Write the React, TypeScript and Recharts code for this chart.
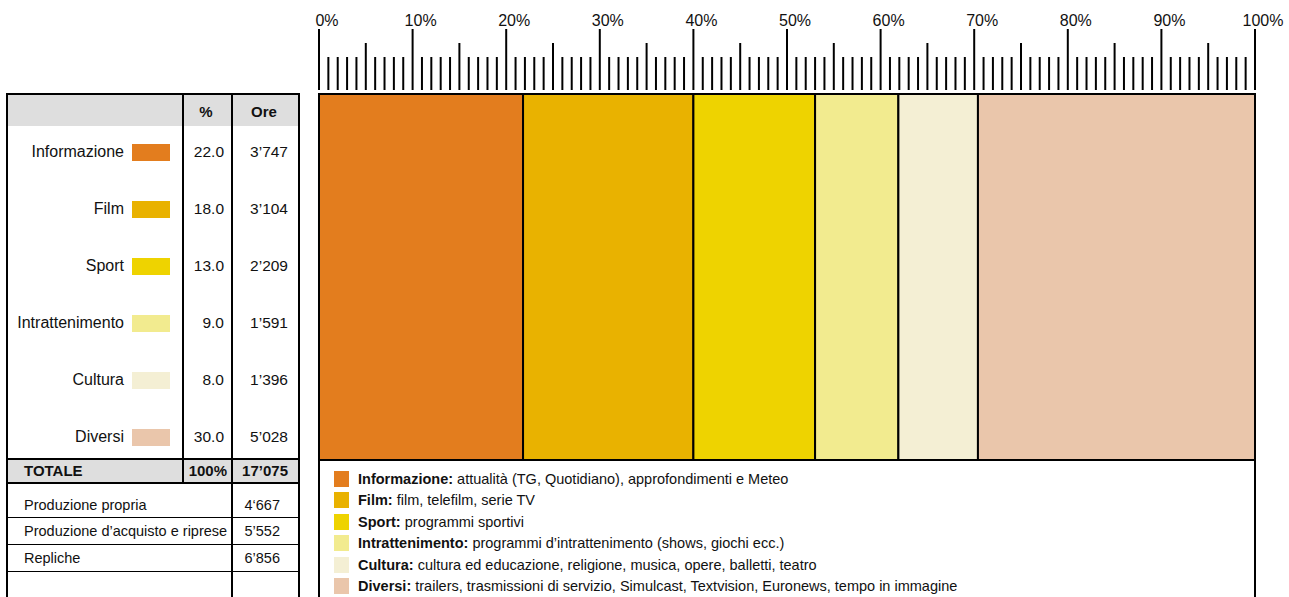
import * as React from "react";
import { Bar, BarChart, XAxis, YAxis } from "recharts";

const CATEGORIES = ["Informazione", "Film", "Sport", "Intrattenimento", "Cultura", "Diversi"];
// valori della tabella
const PERCENT = [22.0, 18.0, 13.0, 9.0, 8.0, 30.0];
const HOURS = ["3’747", "3’104", "2’209", "1’591", "1’396", "5’028"];
// larghezze dei segmenti come disegnati nella barra
const BAR_SHARE = [21.8, 18.2, 13.0, 8.9, 8.5, 29.6];
const COLORS = ["#e37d1e", "#e9b200", "#eed300", "#f2eb8f", "#f4efd4", "#eac6ab"];
const DESCRIPTIONS = [
  "attualità (TG, Quotidiano), approfondimenti e Meteo",
  "film, telefilm, serie TV",
  "programmi sportivi",
  "programmi d’intrattenimento (shows, giochi ecc.)",
  "cultura ed educazione, religione, musica, opere, balletti, teatro",
  "trailers, trasmissioni di servizio, Simulcast, Textvision, Euronews, tempo in immagine",
];
const TOTAL_LABEL = "TOTALE";
const TOTAL_PERCENT = "100%";
const TOTAL_HOURS = "17’075";
const PRODUCTION_LABELS = ["Produzione propria", "Produzione d’acquisto e riprese", "Repliche"];
const PRODUCTION_HOURS = ["4‘667", "5’552", "6’856"];
const MAJOR_TICKS = [0, 10, 20, 30, 40, 50, 60, 70, 80, 90, 100];
const RULER_TICKS = Array.from({ length: 101 }, (_, i) => i);

const FONT = '"Liberation Sans", Arial, Helvetica, sans-serif';

const chartData = [
  CATEGORIES.reduce<Record<string, number | string>>(
    (row, c, i) => {
      row[c] = BAR_SHARE[i];
      return row;
    },
    { name: "TSI" }
  ),
];

/** Righello: tacche lunghe ogni 10%, medie al 5%, corte ogni 1%. */
function RulerTick(props: any) {
  const { x, y, payload } = props;
  const v = payload.value as number;
  const major = MAJOR_TICKS.includes(v);
  const top = major ? 65 : v % 5 === 0 ? 51 : 37;
  return (
    <g>
      <line x1={x} x2={x} y1={y - 4} y2={y - top} stroke="#000" strokeWidth={2} />
      {major && (
        <text x={x + 8} y={y - 68} textAnchor="middle" fontSize={16} fontFamily={FONT} fill="#111">
          {v}%
        </text>
      )}
    </g>
  );
}

const abs = (s: React.CSSProperties): React.CSSProperties => ({ position: "absolute", ...s });

function textAt(
  key: string,
  text: string,
  cy: number,
  opts: { left?: number; right?: number; center?: number; size?: number; bold?: boolean }
) {
  const size = opts.size ?? 15.5;
  const style: React.CSSProperties = {
    position: "absolute",
    top: cy - 10,
    height: 20,
    lineHeight: "20px",
    fontSize: size,
    fontWeight: opts.bold ? 700 : 400,
    whiteSpace: "nowrap",
    color: "#111",
  };
  if (opts.left !== undefined) style.left = opts.left;
  if (opts.right !== undefined) {
    style.right = 1289 - opts.right;
    style.textAlign = "right";
  }
  if (opts.center !== undefined) {
    style.left = opts.center - 50;
    style.width = 100;
    style.textAlign = "center";
  }
  return (
    <div key={key} style={style}>
      {text}
    </div>
  );
}

function LeftTable() {
  const rowY = (i: number) => 152 + 57 * i;
  const prodY = [505, 531, 558];
  return (
    <>
      <div style={abs({ left: 6, top: 93, width: 294, height: 520, border: "2px solid #000", boxSizing: "border-box" })} />
      <div style={abs({ left: 8, top: 95, width: 290, height: 31, background: "#dedede" })} />
      <div style={abs({ left: 8, top: 459, width: 290, height: 24, background: "#dedede" })} />
      <div style={abs({ left: 6, top: 458, width: 294, height: 2, background: "#000" })} />
      <div style={abs({ left: 6, top: 482, width: 294, height: 2, background: "#000" })} />
      <div style={abs({ left: 182, top: 93, width: 2, height: 390, background: "#000" })} />
      <div style={abs({ left: 231, top: 93, width: 2, height: 520, background: "#000" })} />
      {[517, 544, 571].map((y) => (
        <div key={y} style={abs({ left: 8, top: y, width: 290, height: 1, background: "#000" })} />
      ))}
      {textAt("h%", "%", 112, { center: 206, bold: true, size: 15 })}
      {textAt("hOre", "Ore", 112, { center: 264, bold: true, size: 15 })}
      {CATEGORIES.map((c, i) => (
        <React.Fragment key={c}>
          {textAt("l" + c, c, rowY(i), { right: 124, size: 16 })}
          <div style={abs({ left: 132, top: rowY(i) - 8, width: 38, height: 17, background: COLORS[i] })} />
          {textAt("p" + c, PERCENT[i].toFixed(1), rowY(i), { right: 224 })}
          {textAt("o" + c, HOURS[i], rowY(i), { right: 288 })}
        </React.Fragment>
      ))}
      {textAt("tl", TOTAL_LABEL, 471, { left: 24, bold: true, size: 15 })}
      {textAt("tp", TOTAL_PERCENT, 471, { right: 227, bold: true, size: 15 })}
      {textAt("th", TOTAL_HOURS, 471, { right: 288, bold: true, size: 15 })}
      {PRODUCTION_LABELS.map((p, i) => (
        <React.Fragment key={p}>
          {textAt("pl" + i, p, prodY[i], { left: 24, size: 14.5 })}
          {textAt("ph" + i, PRODUCTION_HOURS[i], prodY[i], { right: 280, size: 14.5 })}
        </React.Fragment>
      ))}
    </>
  );
}

function LegendBox() {
  const itemY = (i: number) => 479 + 21.4 * i;
  return (
    <>
      <div style={abs({ left: 318, top: 460, width: 2, height: 140, background: "#000" })} />
      <div style={abs({ left: 1254, top: 460, width: 2, height: 140, background: "#000" })} />
      {CATEGORIES.map((c, i) => (
        <React.Fragment key={c}>
          <div style={abs({ left: 334, top: itemY(i) - 8, width: 15, height: 16, background: COLORS[i] })} />
          <div
            style={abs({
              left: 358,
              top: itemY(i) - 10,
              height: 20,
              lineHeight: "20px",
              fontSize: 14.5,
              whiteSpace: "nowrap",
              color: "#111",
            })}
          >
            <b>{c}:</b> {DESCRIPTIONS[i]}
          </div>
        </React.Fragment>
      ))}
    </>
  );
}

export default function App() {
  return (
    <div
      style={{
        position: "absolute",
        left: 0,
        top: 0,
        width: 1289,
        height: 597,
        overflow: "hidden",
        background: "#fff",
        fontFamily: FONT,
      }}
    >
      <BarChart
        width={1289}
        height={597}
        data={chartData}
        layout="vertical"
        barCategoryGap={0}
        margin={{ top: 0, right: 34, bottom: 137, left: 319 }}
      >
        <XAxis
          type="number"
          orientation="top"
          domain={[0, 100]}
          ticks={RULER_TICKS}
          interval={0}
          height={94}
          tickSize={0}
          tickMargin={0}
          tickLine={false}
          axisLine={false}
          tick={<RulerTick />}
        />
        <YAxis type="category" dataKey="name" hide width={0} />
        {CATEGORIES.map((c, i) => (
          <Bar
            key={c}
            dataKey={c}
            stackId="tot"
            fill={COLORS[i]}
            stroke="#000"
            strokeWidth={2}
            isAnimationActive={false}
          />
        ))}
      </BarChart>
      <LeftTable />
      <LegendBox />
    </div>
  );
}
